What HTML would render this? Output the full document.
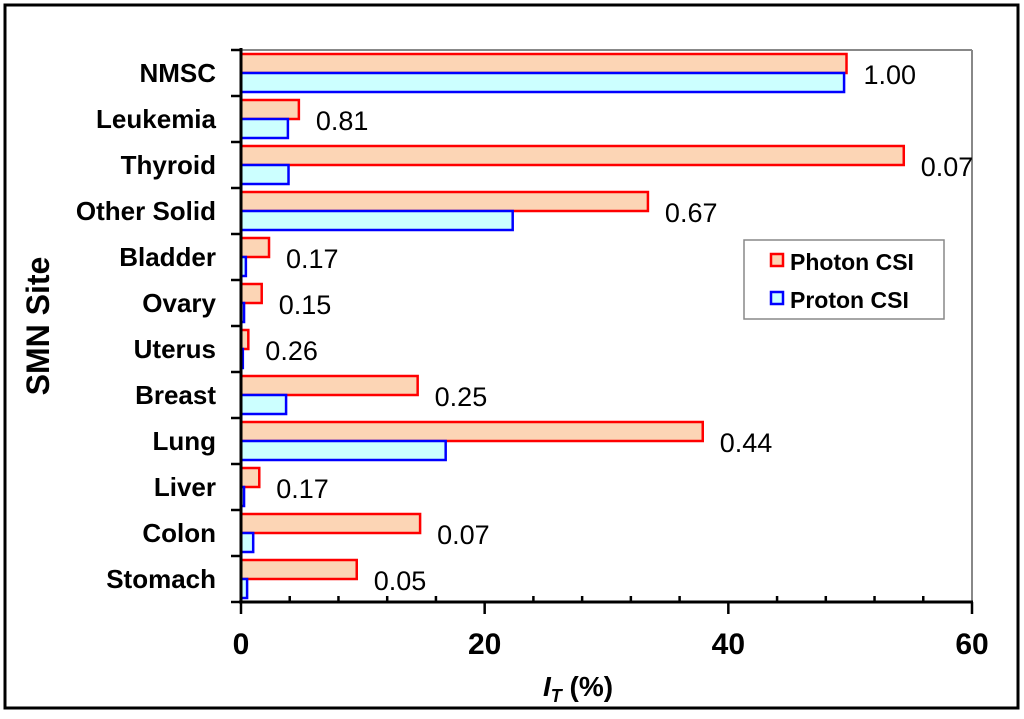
<!DOCTYPE html>
<html><head><meta charset="utf-8"><style>
body{margin:0;background:#fff}
svg text{font-family:"Liberation Sans",Arial,sans-serif}
</style></head><body>
<svg id="chart" width="1024" height="714" xmlns="http://www.w3.org/2000/svg">
<rect x="5" y="5" width="1013" height="703" fill="#fff" stroke="#000" stroke-width="3"/>
<g id="plot"></g>
</svg>
<script>
const categories=["NMSC","Leukemia","Thyroid","Other Solid","Bladder","Ovary","Uterus","Breast","Lung","Liver","Colon","Stomach"];
const photon=[49.7,4.75,54.4,33.4,2.3,1.7,0.6,14.5,37.9,1.5,14.7,9.5];
const proton=[49.5,3.85,3.9,22.3,0.4,0.25,0.15,3.7,16.8,0.25,1.0,0.5];
const ratioLabels=["1.00","0.81","0.07","0.67","0.17","0.15","0.26","0.25","0.44","0.17","0.07","0.05"];
const xTicks=[0,20,40,60];
const NS="http://www.w3.org/2000/svg";
const g=document.getElementById('plot');
const X0=241,X1=972,Y0=50,Y1=602;
const xs=v=>X0+(v/60)*(X1-X0);
const band=(Y1-Y0)/categories.length;
const ys=i=>Y0+i*band;
function mk(t,a,txt){const e=document.createElementNS(NS,t);for(const k in a)e.setAttribute(k,a[k]);if(txt!==undefined)e.textContent=txt;g.appendChild(e);return e;}
let e=mk('line',{x1:X0,y1:Y0,x2:X1,y2:Y0,stroke:'#888','stroke-width':2});

e=mk('line',{x1:X1,y1:Y0,x2:X1,y2:Y1,stroke:'#888','stroke-width':2});

categories.forEach((c,i)=>{
 const y=ys(i);
 let r=mk('rect',{x:X0,y:y+4,width:xs(photon[i])-X0,height:19,fill:'#fcd5b5',stroke:'#f00','stroke-width':2.5});
 
 r=mk('rect',{x:X0,y:y+23,width:xs(proton[i])-X0,height:19,fill:'#ccffff',stroke:'#00f','stroke-width':2.5});
 
 const lx=xs(Math.max(photon[i],proton[i]))+17;
 let t=mk('text',{x:lx,y:y+band/2+11,'font-size':27},ratioLabels[i]);
 
 t=mk('text',{x:216,y:y+band/2+9,'font-size':26,'font-weight':'bold','text-anchor':'end'},c);
 
 let tk=mk('line',{x1:X0-10,y1:y,x2:X0,y2:y,stroke:'#000','stroke-width':2.5});
 
});
let tk=mk('line',{x1:X0-10,y1:Y1,x2:X0,y2:Y1,stroke:'#000','stroke-width':2.5});

for(let v=0;v<=60;v+=4){
 const big=v%20===0;
 const l=mk('line',{x1:xs(v),y1:Y1-(big?0:6),x2:xs(v),y2:Y1+(big?12:0),stroke:'#000','stroke-width':2.5});
 
}
xTicks.forEach(v=>{
 const t=mk('text',{x:xs(v),y:654,'font-size':30,'font-weight':'bold','text-anchor':'middle'},String(v));
 
});
e=mk('line',{x1:X0,y1:Y0-2,x2:X0,y2:Y1,stroke:'#000','stroke-width':3});

e=mk('line',{x1:X0-2,y1:Y1,x2:X1+1,y2:Y1,stroke:'#000','stroke-width':3});

const xt=mk('text',{x:578,y:696,'font-size':28,'font-weight':'bold','text-anchor':'middle'});

xt.innerHTML='<tspan font-style="italic">I</tspan><tspan font-style="italic" font-size="18" dy="6">T</tspan><tspan dy="-6"> (%)</tspan>';
const yt=mk('text',{x:0,y:0,'font-size':32,'font-weight':'bold','text-anchor':'middle',transform:'translate(49,326) rotate(-90)'},'SMN Site');

e=mk('rect',{x:744,y:240,width:200,height:79,fill:'#fff',stroke:'#888','stroke-width':1.5});

e=mk('rect',{x:771,y:254,width:12,height:12,fill:'#fcd5b5',stroke:'#f00','stroke-width':2.5});

e=mk('text',{x:790,y:270,'font-size':23,'font-weight':'bold'},'Photon CSI');

e=mk('rect',{x:771,y:292,width:12,height:12,fill:'#ccffff',stroke:'#00f','stroke-width':2.5});

e=mk('text',{x:790,y:308,'font-size':23,'font-weight':'bold'},'Proton CSI');

</script>
</body></html>
